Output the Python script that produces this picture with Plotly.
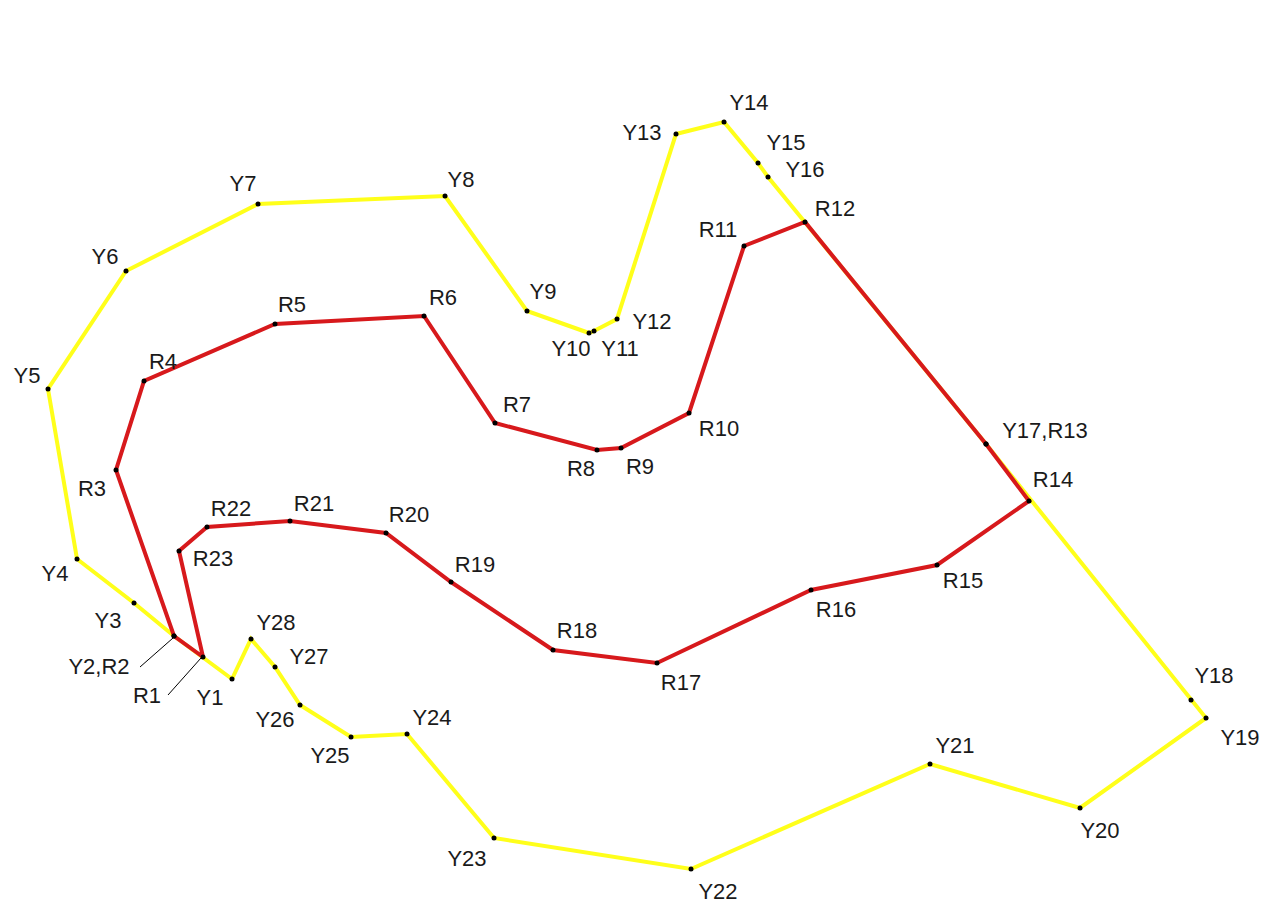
import plotly.graph_objects as go

# Yellow boundary points (Y1..Y28), image-plane coordinates
yellow_names = ["Y1", "Y2", "Y3", "Y4", "Y5", "Y6", "Y7", "Y8", "Y9", "Y10", "Y11", "Y12", "Y13", "Y14",
                "Y15", "Y16", "Y17", "Y18", "Y19", "Y20", "Y21", "Y22", "Y23", "Y24", "Y25", "Y26", "Y27", "Y28"]
yellow_x = [232, 174, 134, 77, 48, 126, 258, 445, 527, 589, 594, 617, 676, 724,
            758, 768, 986, 1191, 1206, 1080, 930, 691, 494, 407, 351, 300, 275, 251]
yellow_y = [679, 636, 603, 559, 389, 271, 204, 196, 311, 333, 331, 319, 134, 122,
            163, 177, 444, 700, 718, 808, 764, 869, 838, 734, 737, 705, 667, 639]

# Red boundary points (R1..R23)
red_names = ["R1", "R2", "R3", "R4", "R5", "R6", "R7", "R8", "R9", "R10", "R11", "R12",
             "R13", "R14", "R15", "R16", "R17", "R18", "R19", "R20", "R21", "R22", "R23"]
red_x = [203, 174, 116, 144, 275, 424, 495, 597, 621, 689, 744, 805,
         986, 1029, 937, 811, 657, 553, 451, 386, 290, 207, 179]
red_y = [657, 636, 470, 381, 324, 316, 423, 450, 448, 413, 246, 222,
         444, 501, 565, 590, 663, 650, 582, 533, 521, 527, 551]

# Labels and their positions
label_text = ["Y1", "Y2,R2", "Y3", "Y4", "Y5", "Y6", "Y7", "Y8", "Y9", "Y10", "Y11", "Y12", "Y13", "Y14",
              "Y15", "Y16", "Y17,R13", "Y18", "Y19", "Y20", "Y21", "Y22", "Y23", "Y24", "Y25", "Y26", "Y27", "Y28",
              "R1", "R3", "R4", "R5", "R6", "R7", "R8", "R9", "R10", "R11", "R12",
              "R14", "R15", "R16", "R17", "R18", "R19", "R20", "R21", "R22", "R23"]
label_x = [210, 99, 108, 55, 27, 105, 243, 461, 543, 571, 620, 652, 642, 749,
           786, 805, 1045, 1214, 1240, 1100, 955, 718, 467, 432, 330, 275, 309, 276,
           147, 92, 163, 292, 443, 517, 581, 640, 719, 718, 835,
           1053, 963, 836, 681, 577, 475, 409, 314, 231, 213]
label_y = [699, 668, 622, 575, 377, 258, 185, 181, 293, 350, 350, 323, 134, 104,
           144, 171, 432, 677, 739, 832, 747, 893, 860, 719, 757, 721, 658, 624,
           697, 490, 363, 306, 299, 406, 470, 468, 430, 231, 210,
           481, 582, 611, 684, 632, 566, 516, 505, 510, 560]

# Leader lines (from label to point)
leaders = [((140, 667), (173, 638)), ((168, 695), (201, 658))]

fig = go.Figure()

fig.add_trace(go.Scatter(
    x=yellow_x + [yellow_x[0]], y=yellow_y + [yellow_y[0]],
    mode="lines", line=dict(color="#FFFF1A", width=4), hoverinfo="skip"))
fig.add_trace(go.Scatter(
    x=red_x + [red_x[0]], y=red_y + [red_y[0]],
    mode="lines", line=dict(color="#D7191C", width=4), hoverinfo="skip"))
fig.add_trace(go.Scatter(
    x=yellow_x + red_x, y=yellow_y + red_y, mode="markers",
    marker=dict(color="black", size=5), text=yellow_names + red_names, hoverinfo="text"))
fig.add_trace(go.Scatter(
    x=label_x, y=label_y, mode="text", text=label_text,
    textposition="middle center",
    textfont=dict(family="Liberation Sans, Arial", size=22, color="#1a1a1a"),
    hoverinfo="skip", cliponaxis=False))

for (x0, y0), (x1, y1) in leaders:
    fig.add_shape(type="line", x0=x0, y0=y0, x1=x1, y1=y1,
                  line=dict(color="black", width=1))

fig.update_layout(
    width=1271, height=905,
    margin=dict(l=0, r=0, t=0, b=0),
    plot_bgcolor="white", paper_bgcolor="white",
    showlegend=False,
    xaxis=dict(range=[0, 1271], visible=False, fixedrange=True),
    yaxis=dict(range=[905, 0], visible=False, fixedrange=True),
)

fig.write_html("out.html", config={"displayModeBar": False},
               post_script="document.body.style.margin='0';document.body.style.overflow='hidden';")
